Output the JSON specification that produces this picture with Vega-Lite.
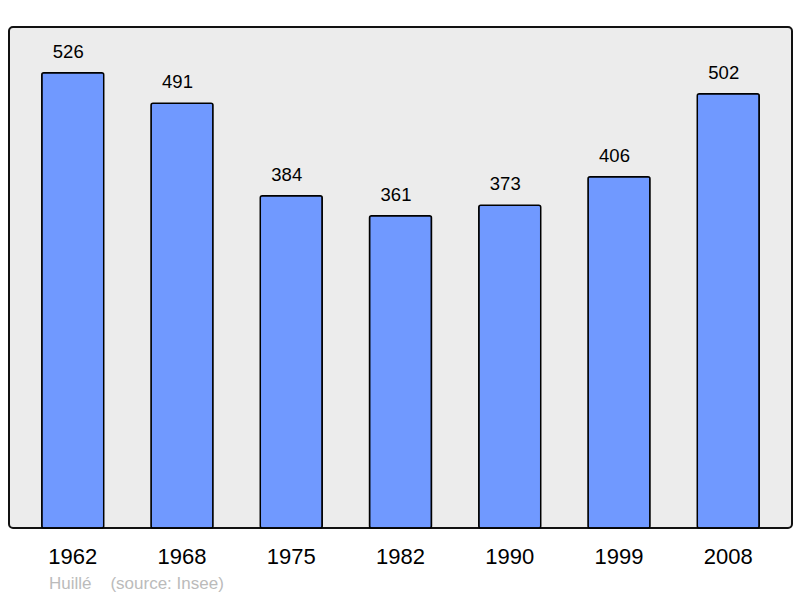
{
  "$schema": "https://vega.github.io/schema/vega-lite/v6.json",
  "width": 783,
  "height": 501,
  "autosize": "none",
  "padding": {"left": 9, "top": 27, "right": 8, "bottom": 70},
  "background": "#ffffff",
  "config": {
    "view": {"fill": "#ececec", "stroke": "#111111", "strokeWidth": 2, "cornerRadius": 4},
    "font": "Liberation Sans"
  },
  "title": {
    "text": "Huillé\u00a0\u00a0\u00a0\u00a0(source: Insee)",
    "orient": "bottom",
    "anchor": "start",
    "frame": "group",
    "dx": 40,
    "offset": 9,
    "fontSize": 17,
    "fontWeight": "normal",
    "color": "#bbbbbb",
    "font": "Liberation Sans"
  },
  "data": {
    "values": [
      {"year": "1962", "population": 526},
      {"year": "1968", "population": 491},
      {"year": "1975", "population": 384},
      {"year": "1982", "population": 361},
      {"year": "1990", "population": 373},
      {"year": "1999", "population": 406},
      {"year": "2008", "population": 502}
    ]
  },
  "encoding": {
    "x": {
      "field": "year",
      "type": "ordinal",
      "scale": {"paddingInner": 0.433, "paddingOuter": 0.3},
      "axis": {
        "title": null,
        "domain": false,
        "ticks": false,
        "labelAngle": 0,
        "labelFontSize": 22,
        "labelColor": "#000000",
        "labelBaseline": "top",
        "labelPadding": 18,
        "labelFont": "Liberation Sans"
      }
    },
    "y": {
      "field": "population",
      "type": "quantitative",
      "scale": {"domain": [0, 579], "nice": false, "zero": true},
      "axis": null
    }
  },
  "layer": [
    {
      "mark": {"type": "bar", "fill": "#7099ff", "stroke": "#000000", "strokeWidth": 1.5, "cornerRadius": 2}
    },
    {
      "mark": {"type": "text", "baseline": "alphabetic", "dy": -15, "dx": -4.5, "fontSize": 18.5, "color": "#000000", "font": "Liberation Sans"},
      "encoding": {"text": {"field": "population", "type": "quantitative"}}
    }
  ]
}
